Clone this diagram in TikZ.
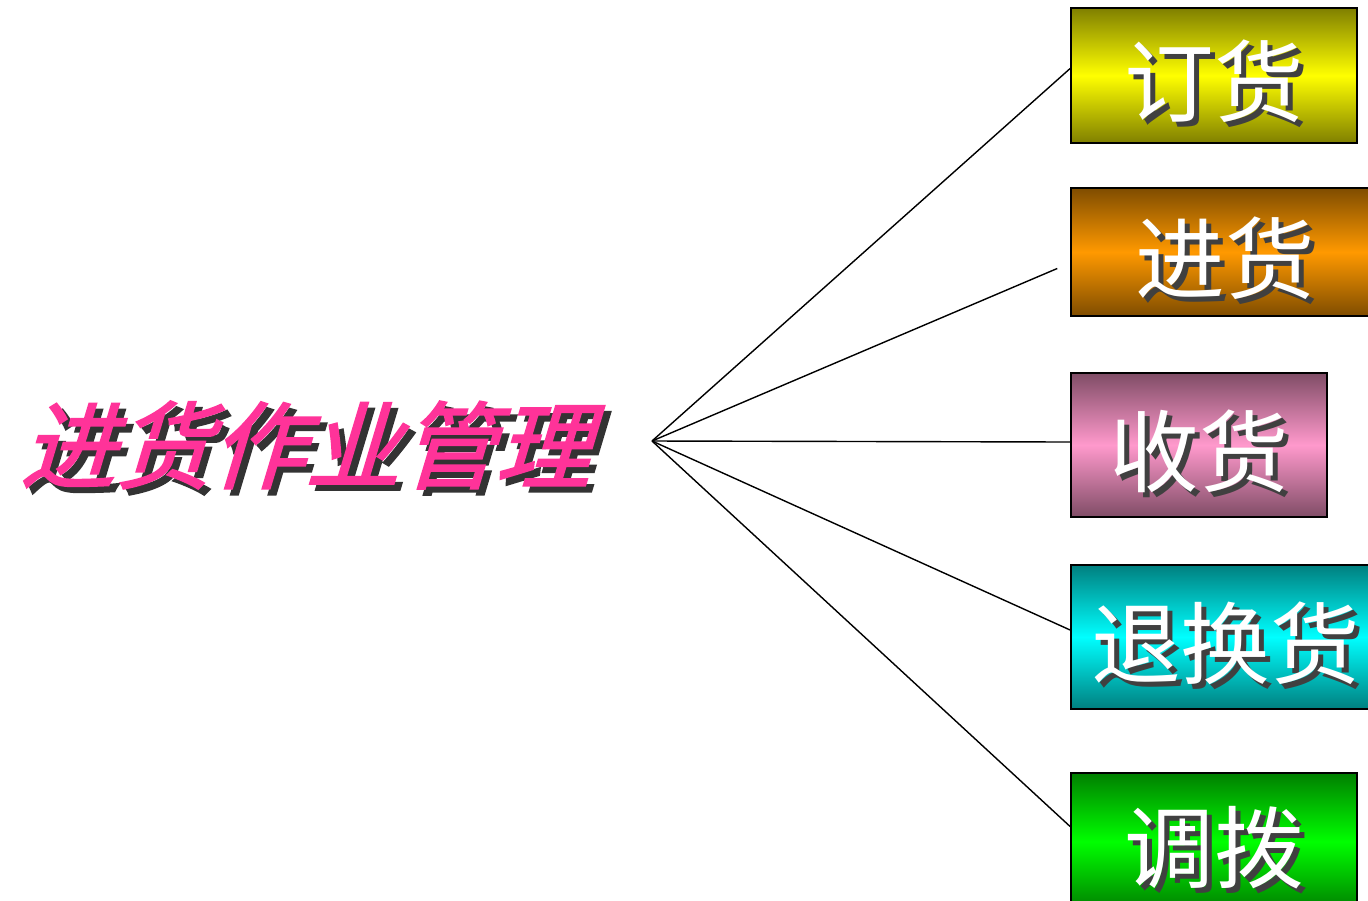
\documentclass[tikz,border=0pt]{standalone}
\usepackage{fontspec}
\newfontfamily\cjk{Noto Sans CJK SC}
\newfontfamily\cjktitle{Noto Sans CJK SC}[FakeSlant=0.3,FakeBold=2]
\definecolor{titlepink}{RGB}{255,51,153}
\definecolor{ylw}{RGB}{255,255,0}
\definecolor{org}{RGB}{255,153,0}
\definecolor{pnk}{RGB}{255,153,204}
\definecolor{cyn}{RGB}{0,255,255}
\definecolor{grn}{RGB}{0,255,0}

\begin{document}
\begin{tikzpicture}[x=0.02cm, y=-0.02cm,
  title/.style = {font=\cjktitle\fontsize{54}{54}\selectfont, inner sep=0pt},
  box/.style = {draw=black, line width=1pt, inner sep=0pt},
  boxtext/.style = {font=\cjk\fontsize{51}{51}\selectfont, inner sep=0pt},
  link/.style = {line width=0.8pt},
  ]
  \clip (0,0) rectangle (1368,900);
  \fill[white] (0,0) rectangle (1368,900);

  % title with shadow
  \node[title, black!80] (titleshadow) at (311,451) {进货作业管理};
  \node[title, titlepink] (title) at (305,445) {进货作业管理};
  \coordinate (hub) at (652,441);

  % boxes on the right
  \foreach \n/\cx/\cy/\w/\h/\c/\t in {
      ding/1214/75.5/286/135/ylw/订货,
      jin/1225.5/252/309/128/org/进货,
      shou/1199/445/256/144/pnk/收货,
      tui/1225.5/637/309/144/cyn/退换货,
      diao/1214/841.5/286/137/grn/调拨} {
    \node[box, minimum width=\w*0.02cm, minimum height=\h*0.02cm,
          top color=\c!50!black, bottom color=\c!50!black, middle color=\c]
      (\n) at (\cx,\cy) {};
    \node[boxtext, black!75] (\n shadow) at ([shift={(5,11)}]\n.center) {\t};
    \node[boxtext, white] (\n text) at ([shift={(0,6)}]\n.center) {\t};
  }

  \draw[link] (hub) -- ([yshift=0.14cm]ding.west);
  \draw[link, shorten >=14*0.02cm] (hub) -- ([yshift=-0.22cm]jin.west);
  \draw[link] (hub) -- ([yshift=0.06cm]shou.west);
  \draw[link] (hub) -- ([yshift=0.14cm]tui.west);
  \draw[link] (hub) -- ([yshift=0.3cm]diao.west);
\end{tikzpicture}
\end{document}
